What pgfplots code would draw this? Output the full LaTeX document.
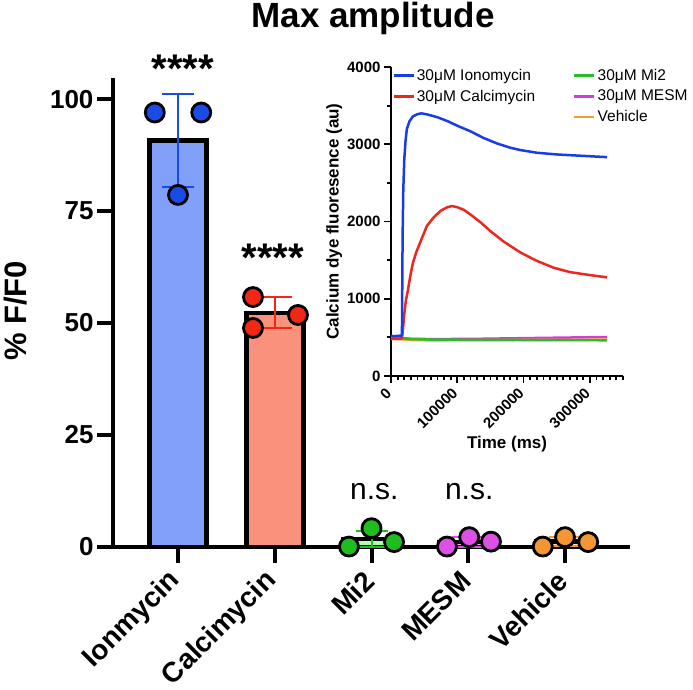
\documentclass[border=0pt]{standalone}
\usepackage{pgfplots}
\pgfplotsset{compat=1.18}
\usepackage{fontspec}
\setmainfont{Liberation Sans}
\definecolor{barblue}{RGB}{128,160,250}
\definecolor{barsalmon}{RGB}{250,145,125}
\definecolor{dotblue}{RGB}{25,75,230}
\definecolor{dotred}{RGB}{240,40,20}
\definecolor{dotgreen}{RGB}{30,190,30}
\definecolor{dotmag}{RGB}{220,80,230}
\definecolor{dotorange}{RGB}{245,150,50}
\definecolor{cblue}{RGB}{25,60,230}
\definecolor{cred}{RGB}{235,40,30}
\definecolor{cgreen}{RGB}{40,190,40}
\definecolor{cmag}{RGB}{210,60,220}
\definecolor{corange}{RGB}{240,160,40}
\begin{document}
\begin{tikzpicture}
\useasboundingbox (0,0) rectangle (693pt,-690pt);
\node[font=\fontsize{35}{40}\selectfont\bfseries, anchor=base] at (373pt,-28pt) {Max amplitude};
\node[rotate=90, anchor=base, font=\fontsize{31}{36}\selectfont\bfseries] at (27pt,-311pt) {\% F/F0};

\begin{axis}[
  at={(113pt,-547pt)}, anchor=south west,
  scale only axis, width=517pt, height=469pt,
  xmin=-0.672, xmax=4.672, ymin=0, ymax=104.7,
  axis x line=bottom, axis y line=left,
  axis line style={-, line width=4pt},
  clip=false,
  xtick={0,1,2,3,4},
  xticklabels={Ionmycin,Calcimycin,Mi2,MESM,Vehicle},
  ytick={0,25,50,75,100},
  tick align=outside, major tick length=16pt,
  tick style={line width=4pt, black},
  xticklabel shift=11pt,
  x tick label style={rotate=45, anchor=east, font=\fontsize{28}{33}\selectfont\bfseries},
  y tick label style={font=\fontsize{26}{31}\selectfont\bfseries},
  /pgf/number format/assume math mode=true,
]
% bars
\addplot[ybar, bar width=57pt, bar shift=0pt, draw=black, line width=4.5pt, fill=barblue] coordinates {(0,90.8)};
\addplot[ybar, bar width=57pt, bar shift=0pt, draw=black, line width=4.5pt, fill=barsalmon] coordinates {(1,52.2)};
\addplot[ybar, bar width=57pt, bar shift=0pt, draw=black, line width=4.5pt, fill=green!30] coordinates {(2,1.8)};
\addplot[ybar, bar width=57pt, bar shift=0pt, draw=black, line width=4.5pt, fill=magenta!30] coordinates {(3,1.1)};
\addplot[ybar, bar width=57pt, bar shift=0pt, draw=black, line width=4.5pt, fill=orange!30] coordinates {(4,1.2)};
% error bars
\addplot[draw=none, mark=none, error bars/.cd, y dir=both, y explicit, error bar style={draw=dotblue, line width=2pt}, error mark options={rotate=90, draw=dotblue, line width=2pt, mark size=16pt}] coordinates {(0,90.8) +- (0,10.4)};
\addplot[draw=none, mark=none, error bars/.cd, y dir=both, y explicit, error bar style={draw=dotred, line width=2pt}, error mark options={rotate=90, draw=dotred, line width=2pt, mark size=17pt}] coordinates {(1,52.3) +- (0,3.4)};
\addplot[draw=none, mark=none, error bars/.cd, y dir=both, y explicit, error bar style={draw=dotgreen, line width=2pt}, error mark options={rotate=90, draw=dotgreen, line width=2pt, mark size=16pt}] coordinates {(2,1.8) +- (0,1.8)};
\addplot[draw=none, mark=none, error bars/.cd, y dir=both, y explicit, error bar style={draw=dotmag, line width=2pt}, error mark options={rotate=90, draw=dotmag, line width=2pt, mark size=16pt}] coordinates {(3,1.1) +- (0,1.1)};
\addplot[draw=none, mark=none, error bars/.cd, y dir=both, y explicit, error bar style={draw=dotorange, line width=2pt}, error mark options={rotate=90, draw=dotorange, line width=2pt, mark size=16pt}] coordinates {(4,1.2) +- (0,1.0)};
% dots
\addplot[only marks, mark=*, mark size=9.5pt, mark options={draw=black, fill=dotblue, line width=2.8pt}] coordinates {(-0.24,97.0) (0,78.6) (0.24,97.0)};
\addplot[only marks, mark=*, mark size=9.5pt, mark options={draw=black, fill=dotred, line width=2.8pt}] coordinates {(0.775,55.8) (1.24,51.8) (0.775,48.9)};
\addplot[only marks, mark=*, mark size=9.5pt, mark options={draw=black, fill=dotgreen, line width=2.8pt}] coordinates {(1.767,0.1) (2.0,4.2) (2.233,1.1)};
\addplot[only marks, mark=*, mark size=9.5pt, mark options={draw=black, fill=dotmag, line width=2.8pt}] coordinates {(2.78,0.1) (3.01,2.2) (3.235,1.2)};
\addplot[only marks, mark=*, mark size=9.5pt, mark options={draw=black, fill=dotorange, line width=2.8pt}] coordinates {(3.77,0.1) (4.0,2.2) (4.24,1.1)};
% annotations
\node[font=\fontsize{40}{46}\selectfont\bfseries, anchor=base] at (axis cs:0.05,103.6) {****};
\node[font=\fontsize{40}{46}\selectfont\bfseries, anchor=base] at (axis cs:0.98,61.4) {****};
\node[font=\fontsize{30}{36}\selectfont, anchor=base] at (axis cs:2.03,10.5) {n.s.};
\node[font=\fontsize{30}{36}\selectfont, anchor=base] at (axis cs:3.01,10.5) {n.s.};
\end{axis}

\begin{axis}[
  at={(391pt,-376pt)}, anchor=south west,
  scale only axis, width=232pt, height=309pt,
  xmin=0, xmax=350000, ymin=0, ymax=4000,
  axis x line=bottom, axis y line=left,
  axis line style={-, line width=2pt},
  xtick={0,100000,200000,300000},
  minor xtick={10000,20000,...,350000},
  ytick={0,1000,2000,3000,4000},
  minor ytick={500,1500,2500,3500},
  tick align=outside, major tick length=7pt, minor tick length=4pt,
  tick style={line width=1.8pt, black},
  scaled ticks=false,
  /pgf/number format/1000 sep={},
  /pgf/number format/fixed,
  /pgf/number format/assume math mode=true,
  xticklabel shift=5pt,
  x tick label style={rotate=45, anchor=east, font=\fontsize{15}{18}\selectfont\bfseries},
  y tick label style={font=\fontsize{15}{18}\selectfont\bfseries},
  xlabel={Time (ms)},
  ylabel={Calcium dye fluoresence (au)},
  label style={font=\fontsize{17}{20}\selectfont\bfseries},
  ylabel style={yshift=-2pt},
  xlabel style={yshift=2pt},
  legend image code/.code={\draw[#1, line width=2.5pt] (0pt,0pt) -- (20pt,0pt);},
  legend columns=2,
  legend cell align=left,
  legend style={at={(0.005,1.0)}, anchor=north west, draw=none, fill=none, inner sep=0pt,
    font=\fontsize{15.5}{18}\selectfont, row sep=4pt,
    /tikz/every even column/.append style={column sep=36pt}},
]
\addlegendimage{cblue}\addlegendentry{30μM Ionomycin}
\addlegendimage{cgreen}\addlegendentry{30μM Mi2}
\addlegendimage{cred}\addlegendentry{30μM Calcimycin}
\addlegendimage{cmag}\addlegendentry{30μM MESM}
\addlegendimage{empty legend}\addlegendentry{}
\addlegendimage{corange}\addlegendentry{Vehicle}

\addplot[forget plot, cmag, line width=2.5pt] coordinates {(0,495)(15000,492)(30000,482)(60000,478)(120000,480)(200000,490)(260000,497)(326000,505)};
\addplot[forget plot, corange, line width=2.5pt] coordinates {(0,480)(15000,478)(30000,465)(60000,462)(150000,465)(250000,468)(326000,470)};
\addplot[forget plot, cgreen, line width=2.5pt] coordinates {(0,490)(15000,488)(30000,478)(60000,472)(120000,468)(200000,466)(260000,466)(326000,462)};
\addplot[forget plot, cred, line width=2.5pt] coordinates {(0,480)(15000,480)(16700,500)(18000,600)(20000,800)(22500,980)(25600,1113)(29000,1290)(33000,1463)(38000,1600)(43700,1722)(54000,1940)(64000,2050)(75000,2140)(85000,2185)(92000,2200)(100000,2185)(110000,2150)(120000,2090)(135000,1990)(150000,1875)(170000,1740)(195000,1600)(220000,1490)(246000,1400)(270000,1345)(297000,1310)(326000,1277)};
\addplot[forget plot, cblue, line width=2.5pt] coordinates {(0,520)(5000,515)(10000,520)(15000,522)(16500,530)(17500,1800)(18500,2400)(20000,2800)(22000,3050)(24000,3200)(28000,3300)(33000,3360)(40000,3390)(46000,3400)(55000,3385)(70000,3350)(85000,3300)(100000,3240)(120000,3167)(140000,3080)(160000,3010)(180000,2955)(195000,2925)(220000,2890)(250000,2868)(271000,2858)(300000,2845)(326000,2833)};
\end{axis}
\end{tikzpicture}
\end{document}
